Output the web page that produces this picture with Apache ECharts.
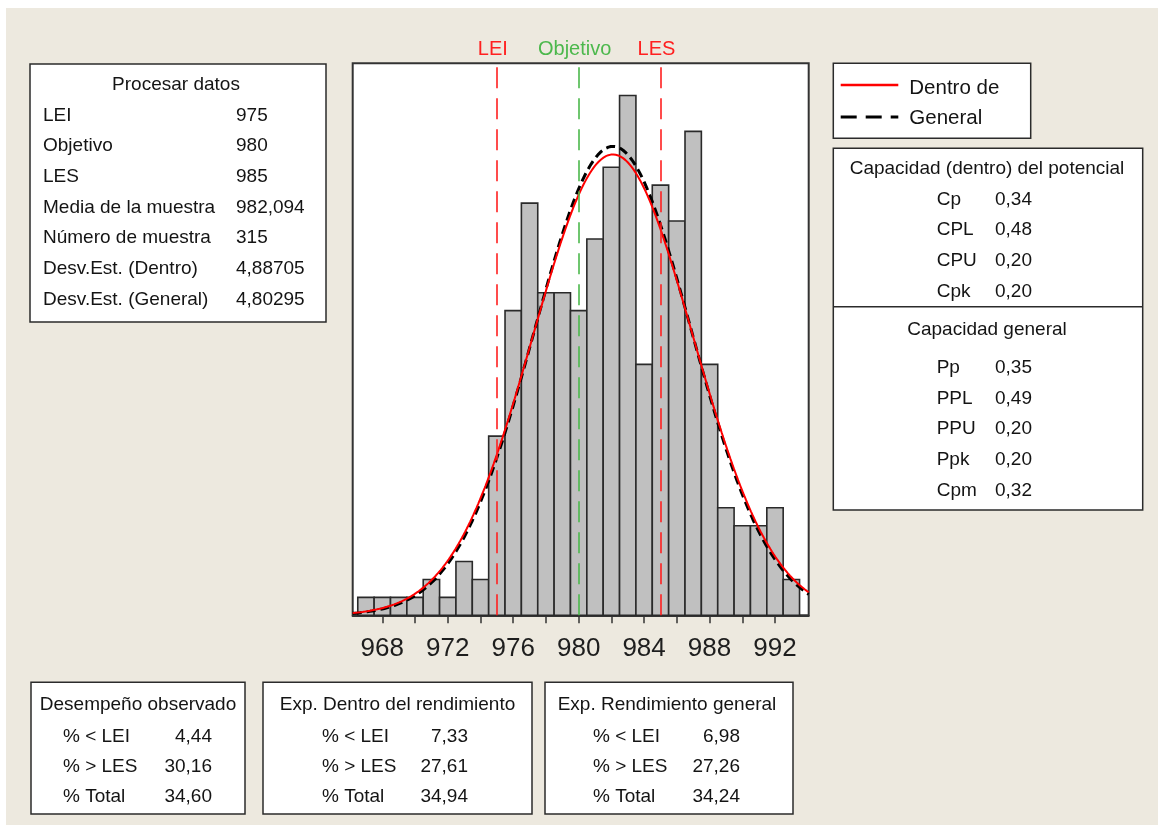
<!DOCTYPE html>
<html>
<head>
<meta charset="utf-8">
<title>Informe de capacidad de proceso</title>
<script src="https://cdn.jsdelivr.net/npm/echarts@6/dist/echarts.min.js"></script>
<style>
  html, body { margin: 0; padding: 0; background: #ffffff; }
  #chart { position: absolute; left: 6px; top: 8px; width: 1152px; height: 817px; }
</style>
</head>
<body>
<div id="chart"></div>
<script>
// ---- Histogram data (bin centres, counts per bin) ----
const binCenters = [967, 968, 969, 970, 971, 972, 973, 974, 975, 976, 977, 978, 979, 980,
                    981, 982, 983, 984, 985, 986, 987, 988, 989, 990, 991, 992, 993];
const binCounts  = [1, 1, 1, 1, 2, 1, 3, 2, 10, 17, 23, 18, 18, 17,
                    21, 25, 29, 14, 24, 22, 27, 14, 6, 5, 5, 6, 2];
const binWidth = 1;

// ---- Process data ----
const specNames  = ['LEI', 'Objetivo', 'LES'];
const specValues = [975, 980, 985];
const sampleMean = 982.094;
const sampleSize = 315;
const sdWithin   = 4.88705;
const sdOverall  = 4.80295;

// ---- Axis ----
const xMin = 966.19, xMax = 994.06;
const yMax = 30.8;
const xTickValues  = [968, 970, 972, 974, 976, 978, 980, 982, 984, 986, 988, 990, 992];
const xLabelValues = [968, 972, 976, 980, 984, 988, 992];

// ---- Tables ----
const procesarTitle = 'Procesar datos';
const procesarLabels = ['LEI', 'Objetivo', 'LES', 'Media de la muestra', 'Número de muestra',
                        'Desv.Est. (Dentro)', 'Desv.Est. (General)'];
const procesarValues = ['975', '980', '985', '982,094', '315', '4,88705', '4,80295'];

const legendNames = ['Dentro de', 'General'];

const potencialTitle  = 'Capacidad (dentro) del potencial';
const potencialLabels = ['Cp', 'CPL', 'CPU', 'Cpk'];
const potencialValues = ['0,34', '0,48', '0,20', '0,20'];

const generalTitle  = 'Capacidad general';
const generalLabels = ['Pp', 'PPL', 'PPU', 'Ppk', 'Cpm'];
const generalValues = ['0,35', '0,49', '0,20', '0,20', '0,32'];

const perfLabels = ['% < LEI', '% > LES', '% Total'];
const perfTitles = ['Desempeño observado', 'Exp. Dentro del rendimiento', 'Exp. Rendimiento general'];
const perfObserved = ['4,44', '30,16', '34,60'];
const perfWithin   = ['7,33', '27,61', '34,94'];
const perfOverall  = ['6,98', '27,26', '34,24'];

// ---- Fitted normal curves (scaled to histogram counts) ----
function normalCurve(mean, sd) {
  const pts = [];
  const steps = 560;
  for (let i = 0; i <= steps; i++) {
    const x = xMin + (xMax - xMin) * i / steps;
    const z = (x - mean) / sd;
    const y = sampleSize * binWidth * Math.exp(-0.5 * z * z) / (sd * Math.sqrt(2 * Math.PI));
    pts.push([x, y]);
  }
  return pts;
}

const FONT = '"Liberation Sans", Arial, sans-serif';
const TEXT_COLOR = '#141414';
const BOX_STROKE = '#2b2b2b';

const chart = echarts.init(document.getElementById('chart'), null, { renderer: 'canvas' });

// ---- graphic helpers ----
function box(x, y, w, h) {
  return { type: 'rect', shape: { x: x, y: y, width: w, height: h },
           style: { fill: '#ffffff', stroke: BOX_STROKE, lineWidth: 1.5 }, z: 10 };
}
function txt(s, x, y, align, size) {
  return { type: 'text', x: x, y: y, z: 11,
           style: { text: s, fill: TEXT_COLOR, font: (size || 19) + 'px ' + FONT,
                    align: align || 'left', verticalAlign: 'middle' } };
}
function hline(x1, x2, y, color, width, dash) {
  return { type: 'line', shape: { x1: x1, y1: y, x2: x2, y2: y }, z: 11,
           style: { stroke: color, lineWidth: width, lineDash: dash || null } };
}

const graphics = [];

// Process data box
graphics.push(box(24, 56, 296, 258));
graphics.push(txt(procesarTitle, 170, 77, 'center'));
procesarLabels.forEach((l, i) => {
  graphics.push(txt(l, 37, 107.3 + i * 30.7, 'left'));
  graphics.push(txt(procesarValues[i], 230, 107.3 + i * 30.7, 'left'));
});

// Legend box
graphics.push(box(827.3, 55.3, 197.4, 75));
graphics.push(hline(834.7, 892.3, 77, '#ff0000', 2.5));
graphics.push(hline(834.7, 892.3, 109, '#000000', 3, [16, 9]));
graphics.push(txt(legendNames[0], 903.3, 80, 'left', 20.5));
graphics.push(txt(legendNames[1], 903.3, 110, 'left', 20.5));

// Capability box
graphics.push(box(827.3, 140.3, 309.4, 361.7));
graphics.push(hline(827.3, 1136.7, 298.7, BOX_STROKE, 1.5));
graphics.push(txt(potencialTitle, 981, 160.5, 'center'));
potencialLabels.forEach((l, i) => {
  graphics.push(txt(l, 930.7, 191.5 + i * 30.6, 'left'));
  graphics.push(txt(potencialValues[i], 989, 191.5 + i * 30.6, 'left'));
});
graphics.push(txt(generalTitle, 981, 321.5, 'center'));
generalLabels.forEach((l, i) => {
  graphics.push(txt(l, 930.7, 360 + i * 30.6, 'left'));
  graphics.push(txt(generalValues[i], 989, 360 + i * 30.6, 'left'));
});

// Performance boxes
const perfBoxes = [
  { x: 25,  w: 214, cx: 132,   lx: 57,  vx: 206, vals: perfObserved },
  { x: 257, w: 269, cx: 391.5, lx: 316, vx: 462, vals: perfWithin },
  { x: 539, w: 248, cx: 661,   lx: 587, vx: 734, vals: perfOverall }
];
perfBoxes.forEach((b, k) => {
  graphics.push(box(b.x, 674.3, b.w, 131.7));
  graphics.push(txt(perfTitles[k], b.cx, 696.5, 'center'));
  perfLabels.forEach((l, i) => {
    graphics.push(txt(l, b.lx, 729 + i * 30, 'left'));
    graphics.push(txt(b.vals[i], b.vx, 729 + i * 30, 'right'));
  });
});

// ---- histogram bars ----
function renderBar(params, api) {
  const x = api.value(0);
  const c = api.value(1);
  const p0 = api.coord([x - binWidth / 2, c]);
  const p1 = api.coord([x + binWidth / 2, 0]);
  return {
    type: 'rect',
    shape: { x: p0[0], y: p0[1], width: p1[0] - p0[0], height: p1[1] - p0[1] },
    style: { fill: '#c0c0c0', stroke: '#2a2a2a', lineWidth: 1.6 }
  };
}

const specColors = ['#ff2020', '#4cb84c', '#ff2020'];

const option = {
  backgroundColor: '#ede9df',
  animation: false,
  grid: {
    left: 346.7, top: 55.3, width: 456, height: 552,
    show: true, backgroundColor: '#ffffff', borderColor: '#333333', borderWidth: 2
  },
  xAxis: {
    type: 'value', min: xMin, max: xMax,
    splitLine: { show: false },
    axisLine: { show: true, onZero: false, lineStyle: { color: '#333333', width: 2 } },
    axisTick: { show: true, customValues: xTickValues, length: 8, lineStyle: { color: '#333333', width: 1.5 } },
    axisLabel: { customValues: xLabelValues, fontSize: 26, fontFamily: FONT, color: '#1e1e1e', margin: 21 }
  },
  yAxis: {
    type: 'value', min: 0, max: yMax, show: false, splitLine: { show: false }
  },
  series: [
    {
      name: 'Límites',
      type: 'line', data: [], z: 1, silent: true,
      markLine: {
        symbol: 'none', silent: true, animation: false,
        data: specNames.map((n, i) => ({
          name: n, xAxis: specValues[i],
          lineStyle: { color: specColors[i], type: [21, 10], width: 1.6 },
          label: { show: true, position: 'end', formatter: n, color: specColors[i],
                   fontSize: 20, fontFamily: FONT, distance: 4, offset: [-4, 0] }
        }))
      }
    },
    {
      name: 'Datos', type: 'custom', renderItem: renderBar, z: 2,
      data: binCenters.map((x, i) => [x, binCounts[i]]),
      encode: { x: 0, y: 1 }
    },
    {
      name: legendNames[1], type: 'line', data: normalCurve(sampleMean, sdOverall),
      showSymbol: false, smooth: false, z: 3, clip: true,
      lineStyle: { color: '#000000', width: 3, type: [9, 5] }
    },
    {
      name: legendNames[0], type: 'line', data: normalCurve(sampleMean, sdWithin),
      showSymbol: false, smooth: false, z: 4, clip: true,
      lineStyle: { color: '#ff0000', width: 2 }
    }
  ],
  graphic: { elements: graphics }
};

chart.setOption(option);
</script>
</body>
</html>
